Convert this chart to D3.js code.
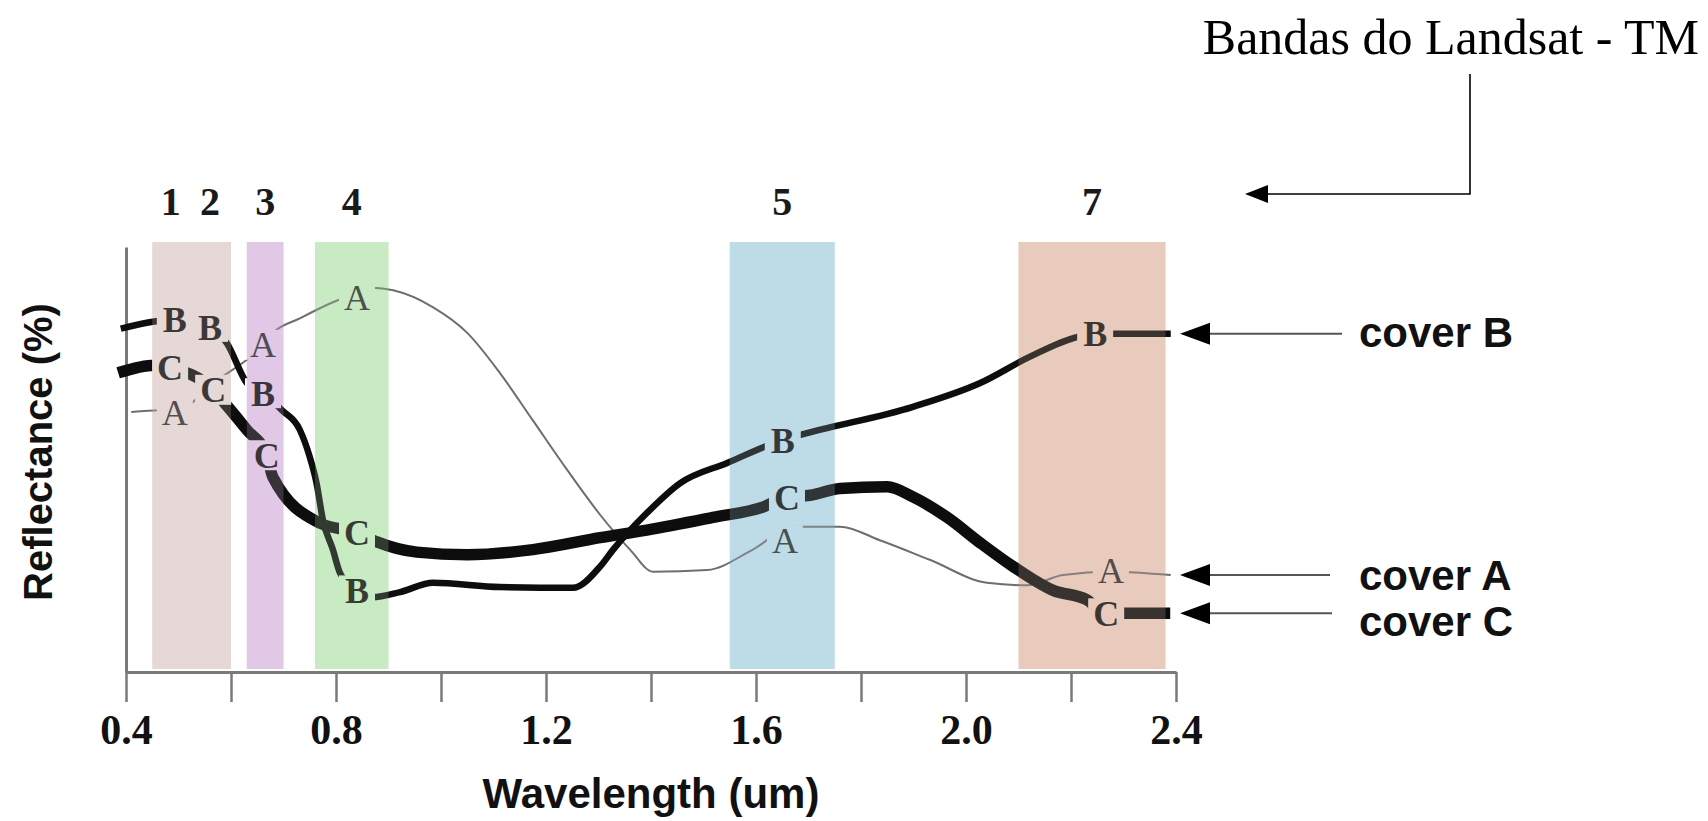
<!DOCTYPE html>
<html><head><meta charset="utf-8">
<script src="https://cdn.jsdelivr.net/npm/d3@7"></script>
<style>html,body{margin:0;padding:0;background:#fff;} svg{display:block;}</style>
</head><body><svg id="chart" width="1708" height="821"></svg>
<script>
// ---------- data ----------
const bandNames  = ["1", "2", "3", "4", "5", "7"];
const bandStarts = [0.45, 0.52, 0.63, 0.76, 1.55, 2.10];
const bandEnds   = [0.52, 0.60, 0.70, 0.90, 1.75, 2.38];

const tickValues      = [0.4, 0.6, 0.8, 1.0, 1.2, 1.4, 1.6, 1.8, 2.0, 2.2, 2.4];
const tickLabelValues = [0.4, 0.8, 1.2, 1.6, 2.0, 2.4];
const tickLabels      = ["0.4", "0.8", "1.2", "1.6", "2.0", "2.4"];

// cover A (thin grey curve)
const wavelengthA  = [0.41, 0.465, 0.493, 0.566, 0.661, 0.68, 0.731, 0.794, 0.84, 0.87, 0.909, 0.985, 1.05, 1.112, 1.175, 1.24, 1.303, 1.36, 1.404, 1.507, 1.594, 1.67, 1.76, 1.836, 1.931, 2.04, 2.116, 2.185, 2.276, 2.39];
const reflectanceA = [30.6, 30.8, 30.6, 34.0, 38.5, 39.9, 41.6, 43.5, 44.6, 45.2, 44.9, 42.9, 39.9, 35.2, 29.6, 23.8, 18.5, 14.4, 11.8, 12.0, 14.4, 17.1, 17.1, 15.5, 13.2, 10.5, 10.2, 11.4, 11.8, 11.4];
// cover B (medium black curve)
const wavelengthB  = [0.39, 0.451, 0.493, 0.56, 0.592, 0.63, 0.661, 0.697, 0.731, 0.75, 0.763, 0.775, 0.794, 0.808, 0.84, 0.87, 0.922, 0.985, 1.112, 1.251, 1.303, 1.328, 1.392, 1.455, 1.545, 1.651, 1.697, 1.899, 2.027, 2.122, 2.211, 2.246, 2.39];
const reflectanceB = [40.4, 41.2, 41.5, 40.6, 38.7, 34.0, 32.8, 30.8, 28.5, 25.3, 22.2, 17.9, 14.4, 11.6, 9.6, 8.8, 9.4, 10.5, 10.0, 9.9, 12.4, 14.4, 18.7, 22.2, 24.6, 27.3, 28.1, 31.2, 34.0, 37.1, 39.4, 39.8, 39.8];
// cover C (thick black curve)
const wavelengthC  = [0.385, 0.455, 0.484, 0.566, 0.594, 0.63, 0.668, 0.68, 0.77, 0.84, 0.878, 0.954, 1.05, 1.175, 1.303, 1.392, 1.518, 1.613, 1.659, 1.703, 1.76, 1.85, 1.899, 1.964, 2.027, 2.09, 2.166, 2.23, 2.267, 2.389];
const reflectanceC = [35.2, 36.1, 35.8, 33.2, 31.2, 28.5, 25.5, 22.9, 17.5, 16.4, 15.3, 14.1, 13.8, 14.4, 15.8, 16.7, 18.2, 19.4, 20.6, 20.8, 21.6, 21.8, 20.6, 18.2, 15.2, 12.4, 9.6, 8.5, 6.9, 6.9];

// letter labels sitting on the curves
const labelWavelengthA = [0.493, 0.661, 0.84, 1.655, 2.276];
const labelValueA      = [30.6, 38.5, 44.1, 15.5, 11.9];
const labelWavelengthB = [0.493, 0.56, 0.661, 0.84, 1.651, 2.246];
const labelValueB      = [41.5, 40.6, 32.8, 9.6, 27.3, 39.8];
const labelWavelengthC = [0.484, 0.566, 0.668, 0.84, 1.659, 2.267];
const labelValueC      = [35.8, 33.2, 25.5, 16.4, 20.6, 6.9];

const legendNames = ["cover B", "cover A", "cover C"];
const titleText = "Bandas do Landsat - TM";
const xTitle = "Wavelength (um)";
const yTitle = "Reflectance (%)";

// ---------- styles ----------
const bandColors = ["#e6d9d6", "#e6d9d6", "#e2c9e8", "#c9ecc3", "#bddde8", "#e9cbbd"];
const serif = "'Liberation Serif','Times New Roman',serif";
const sans  = "'Liberation Sans',Arial,sans-serif";

// ---------- chart ----------
const W = 1708, H = 821;
const svg = d3.select("#chart");
const x = d3.scaleLinear().domain([0.4, 2.4]).range([126, 1176]);
const y = d3.scaleLinear().domain([0, 50]).range([672, 247]);
const bandTop = 242, bandBottom = 669;

const bands = bandNames.map((n, i) => ({name: n, x0: bandStarts[i], x1: bandEnds[i], color: bandColors[i]}));

function drawBands(g, opacity) {
  g.selectAll("rect").data(bands).join("rect")
    .attr("x", d => x(d.x0)).attr("width", d => x(d.x1) - x(d.x0))
    .attr("y", bandTop).attr("height", bandBottom - bandTop)
    .attr("fill", d => d.color).attr("opacity", opacity);
}
drawBands(svg.append("g"), 1);

// band numbers
svg.append("g").selectAll("text").data(bands).join("text")
  .attr("x", d => x((d.x0 + d.x1) / 2)).attr("y", 215)
  .attr("text-anchor", "middle")
  .attr("font-family", serif).attr("font-weight", "bold").attr("font-size", 40)
  .attr("fill", "#1a1a1a").text(d => d.name);

// axes
const xAxis = d3.axisBottom(x).tickValues(tickValues).tickSize(30).tickSizeOuter(0)
  .tickFormat(d => { const i = tickLabelValues.findIndex(v => Math.abs(v - d) < 1e-9); return i >= 0 ? tickLabels[i] : ""; });
const gx = svg.append("g").attr("transform", `translate(0,${y(0)})`).call(xAxis);
gx.select(".domain").attr("stroke", "#7a7a7a").attr("stroke-width", 3);
gx.selectAll(".tick line").attr("stroke", "#7a7a7a").attr("stroke-width", 2.5);
gx.selectAll(".tick text").attr("y", 72).attr("dy", 0)
  .attr("font-family", serif).attr("font-weight", "bold").attr("font-size", 42).attr("fill", "#111");

const yAxis = d3.axisLeft(y).tickValues([]).tickSizeOuter(0);
const gy = svg.append("g").attr("transform", `translate(${x(0.4)},0)`).call(yAxis);
gy.select(".domain").attr("stroke", "#7a7a7a").attr("stroke-width", 3);

svg.append("text").attr("x", (x(0.4) + x(2.4)) / 2).attr("y", 808)
  .attr("text-anchor", "middle").attr("font-family", sans).attr("font-weight", "bold")
  .attr("font-size", 42).attr("fill", "#111").text(xTitle);
svg.append("text").attr("transform", "translate(52,452) rotate(-90)")
  .attr("text-anchor", "middle").attr("font-family", sans).attr("font-weight", "bold")
  .attr("font-size", 40).attr("fill", "#111").text(yTitle);

// labels data
const labels = [];
labelWavelengthA.forEach((w, i) => labels.push({t: "A", w, v: labelValueA[i]}));
labelWavelengthB.forEach((w, i) => labels.push({t: "B", w, v: labelValueB[i]}));
labelWavelengthC.forEach((w, i) => labels.push({t: "C", w, v: labelValueC[i]}));

// mask that opens gaps in the curves around labels
const defs = svg.append("defs");
const mask = defs.append("mask").attr("id", "lblmask").attr("maskUnits", "userSpaceOnUse")
  .attr("x", 0).attr("y", 0).attr("width", W).attr("height", H);
mask.append("rect").attr("x", 0).attr("y", 0).attr("width", W).attr("height", H).attr("fill", "#fff");
mask.selectAll("rect.hole").data(labels).join("rect").attr("class", "hole")
  .attr("x", d => x(d.w) - 18).attr("y", d => y(d.v) - 15).attr("width", 36).attr("height", 30)
  .attr("fill", "#000");

const line = d3.line().x(d => x(d[0])).y(d => y(d[1])).curve(d3.curveMonotoneX);
const series = [
  {w: wavelengthA, v: reflectanceA, color: "#6e6e6e", width: 2},
  {w: wavelengthB, v: reflectanceB, color: "#0d0d0d", width: 6.5},
  {w: wavelengthC, v: reflectanceC, color: "#0d0d0d", width: 11.5}
];
const gLines = svg.append("g").attr("mask", "url(#lblmask)");
gLines.selectAll("path").data(series).join("path")
  .attr("d", s => line(s.w.map((w, i) => [w, s.v[i]])))
  .attr("fill", "none").attr("stroke", s => s.color).attr("stroke-width", s => s.width)
  .attr("stroke-linejoin", "round");

svg.append("g").selectAll("text").data(labels).join("text")
  .attr("x", d => x(d.w)).attr("y", d => y(d.v)).attr("dy", "0.35em")
  .attr("text-anchor", "middle").attr("font-family", serif)
  .attr("font-weight", d => d.t === "A" ? "normal" : "bold")
  .attr("font-size", 36).attr("fill", d => d.t === "A" ? "#2e2e2e" : "#111")
  .text(d => d.t);

// tint overlay of bands on top of the curves
drawBands(svg.append("g"), 0.2);

// legend arrows
const ends = [
  {name: legendNames[0], v: reflectanceB[reflectanceB.length - 1], lineEnd: 1342, off: 13},
  {name: legendNames[1], v: reflectanceA[reflectanceA.length - 1], lineEnd: 1330, off: 15},
  {name: legendNames[2], v: reflectanceC[reflectanceC.length - 1], lineEnd: 1332, off: 23}
];
const tipX = 1180;
const gl = svg.append("g");
ends.forEach(e => {
  const yy = y(e.v);
  gl.append("line").attr("x1", tipX + 20).attr("x2", e.lineEnd).attr("y1", yy).attr("y2", yy)
    .attr("stroke", "#555").attr("stroke-width", 2);
  gl.append("path").attr("d", `M${tipX},${yy}L${tipX + 30},${yy - 11}L${tipX + 30},${yy + 11}Z`).attr("fill", "#000");
  gl.append("text").attr("x", 1359).attr("y", yy + e.off)
    .attr("font-family", sans).attr("font-weight", "bold").attr("font-size", 42)
    .attr("fill", "#111").text(e.name);
});

// title with connector
svg.append("text").attr("x", 1699).attr("y", 54).attr("text-anchor", "end")
  .attr("font-family", serif).attr("font-size", 50).attr("fill", "#000").text(titleText);
svg.append("path").attr("d", "M1470,74V194H1262").attr("fill", "none").attr("stroke", "#000").attr("stroke-width", 1.6);
svg.append("path").attr("d", "M1245,194L1268,185L1268,203Z").attr("fill", "#000");
</script></body></html>
